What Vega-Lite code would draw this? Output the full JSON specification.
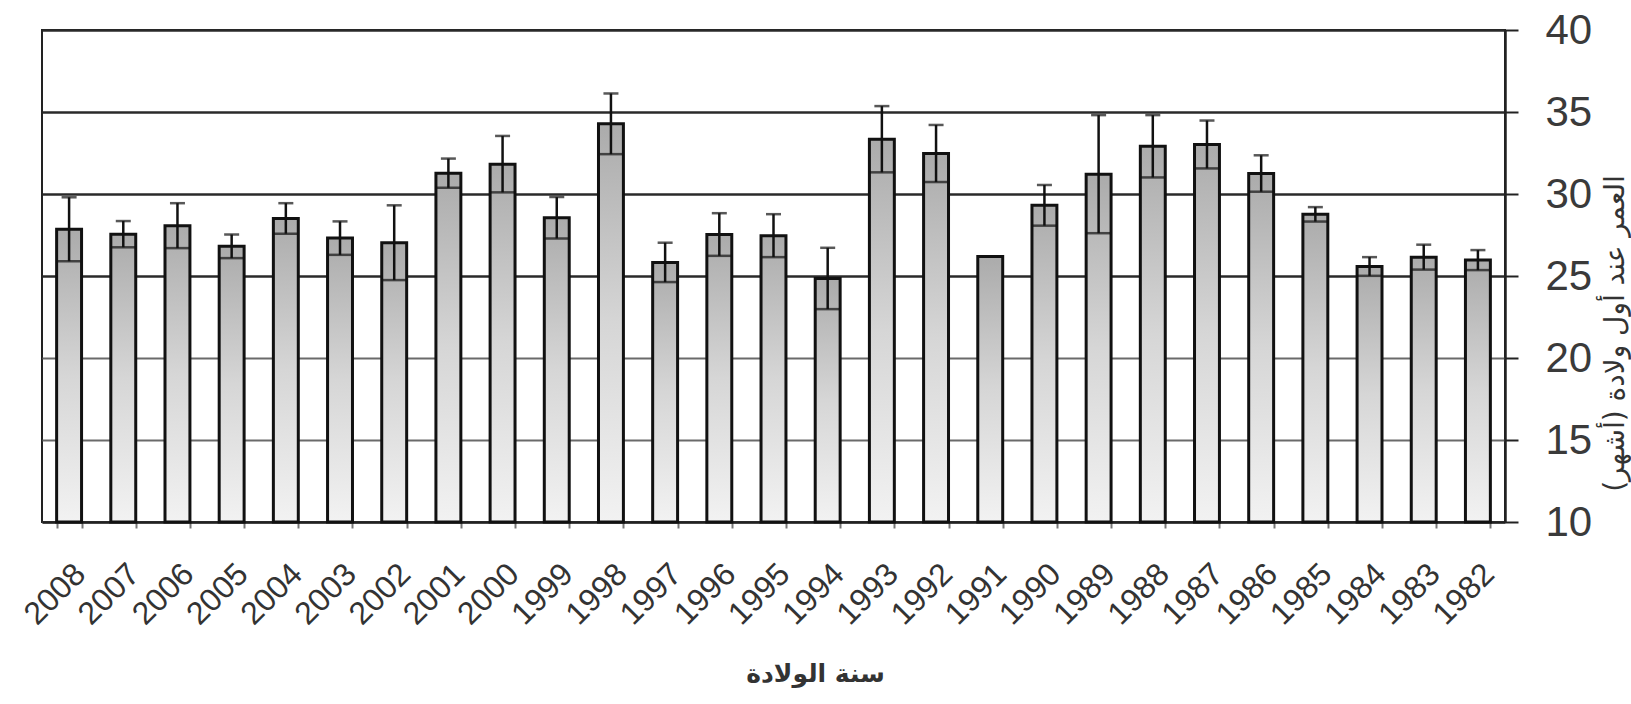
{
  "$schema": "https://vega.github.io/schema/vega-lite/v6.json",
  "autosize": {"type": "none"},
  "padding": {"left": 42, "top": 30, "right": 126, "bottom": 182},
  "width": 1463,
  "height": 492,
  "background": "white",
  "config": {
    "view": {"stroke": "#222", "strokeWidth": 2},
    "font": "Liberation Sans"
  },
  "data": {
    "values": [
      {"year": 2008, "mean": 27.85, "lo": 25.9, "hi": 29.8},
      {"year": 2007, "mean": 27.55, "lo": 26.75, "hi": 28.35},
      {"year": 2006, "mean": 28.07, "lo": 26.7, "hi": 29.44},
      {"year": 2005, "mean": 26.81, "lo": 26.09, "hi": 27.53},
      {"year": 2004, "mean": 28.51, "lo": 27.58, "hi": 29.44},
      {"year": 2003, "mean": 27.31, "lo": 26.29, "hi": 28.33},
      {"year": 2002, "mean": 27.03, "lo": 24.75, "hi": 29.31},
      {"year": 2001, "mean": 31.27, "lo": 30.38, "hi": 32.16},
      {"year": 2000, "mean": 31.82, "lo": 30.1, "hi": 33.54},
      {"year": 1999, "mean": 28.55, "lo": 27.29, "hi": 29.81},
      {"year": 1998, "mean": 34.28, "lo": 32.43, "hi": 36.13},
      {"year": 1997, "mean": 25.83, "lo": 24.63, "hi": 27.03},
      {"year": 1996, "mean": 27.53, "lo": 26.23, "hi": 28.83},
      {"year": 1995, "mean": 27.46, "lo": 26.15, "hi": 28.77},
      {"year": 1994, "mean": 24.85, "lo": 22.98, "hi": 26.72},
      {"year": 1993, "mean": 33.34, "lo": 31.32, "hi": 35.36},
      {"year": 1992, "mean": 32.47, "lo": 30.73, "hi": 34.21},
      {"year": 1991, "mean": 26.19, "lo": 26.19, "hi": 26.19},
      {"year": 1990, "mean": 29.31, "lo": 28.07, "hi": 30.55},
      {"year": 1989, "mean": 31.21, "lo": 27.61, "hi": 34.81},
      {"year": 1988, "mean": 32.91, "lo": 31.01, "hi": 34.81},
      {"year": 1987, "mean": 33.02, "lo": 31.56, "hi": 34.48},
      {"year": 1986, "mean": 31.25, "lo": 30.14, "hi": 32.36},
      {"year": 1985, "mean": 28.76, "lo": 28.32, "hi": 29.2},
      {"year": 1984, "mean": 25.58, "lo": 25.01, "hi": 26.15},
      {"year": 1983, "mean": 26.15, "lo": 25.39, "hi": 26.91},
      {"year": 1982, "mean": 25.97, "lo": 25.36, "hi": 26.58}
    ]
  },
  "encoding": {
    "x": {
      "field": "year",
      "type": "ordinal",
      "sort": "descending",
      "scale": {"paddingInner": 0.54, "paddingOuter": 0.27},
      "axis": {
        "title": "سنة الولادة",
        "titleFont": "DejaVu Sans",
        "titleFontSize": 25,
        "titleFontWeight": "bold",
        "titleColor": "#333",
        "titleX": 773,
        "titleY": 151,
        "titleAlign": "center",
        "titleBaseline": "middle",
        "labelAngle": -45,
        "labelAlign": "right",
        "labelBaseline": "top",
        "labelFontSize": 32,
        "labelColor": "#333",
        "labelPadding": 30,
        "tickBand": "extent",
        "tickSize": 6,
        "tickColor": "#777",
        "tickWidth": 2,
        "domainColor": "#222",
        "domainWidth": 2.5,
        "grid": false
      }
    }
  },
  "layer": [
    {
      "mark": {
        "type": "bar",
        "stroke": "#111",
        "strokeWidth": 3,
        "color": {
          "gradient": "linear",
          "x1": 0, "y1": 0, "x2": 0, "y2": 1,
          "stops": [
            {"offset": 0, "color": "#ababab"},
            {"offset": 0.5, "color": "#d6d6d6"},
            {"offset": 1, "color": "#f2f2f2"}
          ]
        }
      },
      "encoding": {
        "y": {
          "field": "mean",
          "type": "quantitative",
          "scale": {"domain": [10, 40], "zero": false, "nice": false},
          "axis": {
            "orient": "right",
            "values": [10, 15, 20, 25, 30, 35, 40],
            "title": "العمر عند أول ولادة (أشهر)",
            "titleFont": "DejaVu Sans",
            "titleFontSize": 28,
            "titleFontWeight": "normal",
            "titleColor": "#333",
            "titleAngle": -90,
            "titleX": 110,
            "titleY": 303,
            "titleAlign": "center",
            "titleBaseline": "middle",
            "labelFontSize": 42,
            "labelColor": "#3a3a3a",
            "labelPadding": 27,
            "tickSize": 13,
            "tickColor": "#222",
            "tickWidth": 2,
            "domainColor": "#222",
            "domainWidth": 2.5,
            "grid": true,
            "gridColor": {"condition": {"test": "datum.value >= 25", "value": "#2a2a2a"}, "value": "#6a6a6a"},
            "gridWidth": {"condition": {"test": "datum.value >= 25", "value": 2.5}, "value": 1.8}
          }
        },
        "y2": {"datum": 10}
      }
    },
    {
      "mark": {"type": "rule", "color": "#111", "strokeWidth": 2.5},
      "encoding": {
        "y": {"field": "lo", "type": "quantitative"},
        "y2": {"field": "hi"}
      }
    },
    {
      "mark": {"type": "tick", "color": "#111", "thickness": 2.5, "size": 15},
      "encoding": {
        "y": {"field": "hi", "type": "quantitative"}
      }
    },
    {
      "mark": {"type": "tick", "color": "#111", "thickness": 2.5, "size": 25},
      "encoding": {
        "y": {"field": "lo", "type": "quantitative"}
      }
    }
  ]
}
